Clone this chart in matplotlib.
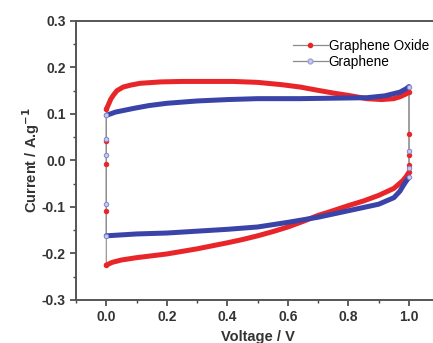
import numpy as np
import matplotlib
matplotlib.use("Agg")
import matplotlib.pyplot as plt
from matplotlib.lines import Line2D
from matplotlib.ticker import MultipleLocator

plt.rcParams['font.family'] = ['Liberation Sans', 'DejaVu Sans']

# graphene oxide: anodic sweep (0 -> 1 V) and cathodic sweep (1 -> 0 V)
go_v_fwd = [0.0, 0.007, 0.015, 0.023, 0.035, 0.056, 0.08, 0.112, 0.18, 0.25, 0.33, 0.42,
            0.5, 0.58, 0.64, 0.69, 0.75, 0.8, 0.86, 0.91, 0.95, 0.97, 0.99, 1.0]
go_i_fwd = [0.11, 0.12, 0.132, 0.14, 0.15, 0.158, 0.162, 0.166, 0.169, 0.17, 0.17, 0.17,
            0.168, 0.163, 0.158, 0.152, 0.145, 0.14, 0.133, 0.131, 0.133, 0.137, 0.143, 0.147]
go_v_rev = [1.0, 0.99, 0.98, 0.95, 0.9, 0.85, 0.8, 0.73, 0.7, 0.65, 0.6, 0.55, 0.5, 0.45,
            0.4, 0.3, 0.2, 0.1, 0.05, 0.02, 0.0]
go_i_rev = [-0.025, -0.035, -0.043, -0.06, -0.075, -0.087, -0.097, -0.112, -0.118, -0.131,
            -0.143, -0.153, -0.162, -0.17, -0.177, -0.19, -0.201, -0.209, -0.214, -0.219, -0.225]
# sparse points on the potential reversal at 0 V and 1 V
go_i_at0 = [-0.225, -0.108, -0.007, 0.042, 0.11]
go_i_at1 = [0.147, 0.058, 0.011, -0.009, -0.025]

# graphene
g_v_fwd = [0.0, 0.013, 0.03, 0.06, 0.09, 0.14, 0.2, 0.3, 0.4, 0.5, 0.64, 0.75, 0.86,
           0.92, 0.97, 0.99, 1.0]
g_i_fwd = [0.097, 0.1, 0.104, 0.108, 0.112, 0.118, 0.123, 0.128, 0.131, 0.133, 0.133,
           0.134, 0.135, 0.139, 0.147, 0.154, 0.159]
g_v_rev = [1.0, 0.99, 0.98, 0.97, 0.95, 0.9, 0.8, 0.7, 0.6, 0.5, 0.4, 0.3, 0.2, 0.1, 0.0]
g_i_rev = [-0.036, -0.045, -0.055, -0.066, -0.08, -0.094, -0.108, -0.122, -0.133, -0.143,
           -0.148, -0.152, -0.156, -0.158, -0.162]
g_i_at0 = [-0.162, -0.093, 0.011, 0.047, 0.097]
g_i_at1 = [0.159, 0.02, -0.017, -0.036]

red = '#e8262a'
blue = '#3a44a8'
gray = '#8a8a8a'

fig = plt.figure(figsize=(4.33, 3.43), dpi=100)
ax = fig.add_axes([0.1755, 0.1254, 0.839, 0.8134])

series = [
    (go_v_fwd, go_i_fwd, go_v_rev, go_i_rev, go_i_at0, go_i_at1, red, red, red),
    (g_v_fwd, g_i_fwd, g_v_rev, g_i_rev, g_i_at0, g_i_at1, blue, '#c9c8ee', '#7f86d0'),
]
for vf, i_f, vr, ir, at0, at1, col, mfc, mec in series:
    # thin connecting line round the whole loop
    v_loop = [0.0] * len(at0) + vf + [1.0] * len(at1) + vr
    i_loop = at0 + i_f + at1 + ir
    ax.plot(v_loop, i_loop, color=gray, lw=0.8, zorder=2)
    ax.plot(vf, i_f, color=col, lw=3.6, solid_capstyle='round', solid_joinstyle='round', zorder=3)
    ax.plot(vr, ir, color=col, lw=3.6, solid_capstyle='round', solid_joinstyle='round', zorder=3)
    ax.plot([0.0] * len(at0) + [1.0] * len(at1), at0 + at1, ls='none', marker='o', ms=3.2,
            mfc=mfc, mec=mec, mew=0.7, zorder=4)

ax.set_xlim(-0.1, 1.1)
ax.set_ylim(-0.3, 0.3)
ax.xaxis.set_major_locator(MultipleLocator(0.2))
ax.xaxis.set_minor_locator(MultipleLocator(0.1))
ax.yaxis.set_major_locator(MultipleLocator(0.1))
ax.yaxis.set_minor_locator(MultipleLocator(0.05))
ax.xaxis.set_major_formatter(plt.FuncFormatter(lambda v, p: f'{v:.1f}'))
ax.yaxis.set_major_formatter(plt.FuncFormatter(lambda v, p: f'{v:.1f}'))
ax.tick_params(which='major', direction='out', length=4, width=1.2, color='#444444',
               labelsize=10, labelcolor='#333333', top=False, right=False)
ax.tick_params(which='minor', direction='out', length=2.5, width=1.0, color='#444444',
               top=False, right=False)
for lab in ax.get_xticklabels() + ax.get_yticklabels():
    lab.set_fontweight('bold')
for s in ax.spines.values():
    s.set_color('#555555')
    s.set_linewidth(1.4)

ax.set_xlabel('Voltage / V', fontsize=10.5, fontweight='bold', color='#333333', labelpad=4)
ax.set_ylabel('Current / A.g$^{\\mathbf{-1}}$', fontsize=10.5, fontweight='bold',
              color='#333333', labelpad=-0.5)

handles = [
    Line2D([], [], color=gray, lw=0.9, marker='o', ms=3, mfc=red, mec=red),
    Line2D([], [], color=gray, lw=0.9, marker='o', ms=3.5, mfc='#c9c8ee', mec='#9fa3d8'),
]
ax.legend(handles, ['Graphene Oxide', 'Graphene'], loc='upper left',
          bbox_to_anchor=(0.57, 0.97), frameon=False, fontsize=9.8, handlelength=2.6,
          handletextpad=0.05, labelspacing=0.12, borderpad=0.2)

fig.savefig('out.png', dpi=100)
